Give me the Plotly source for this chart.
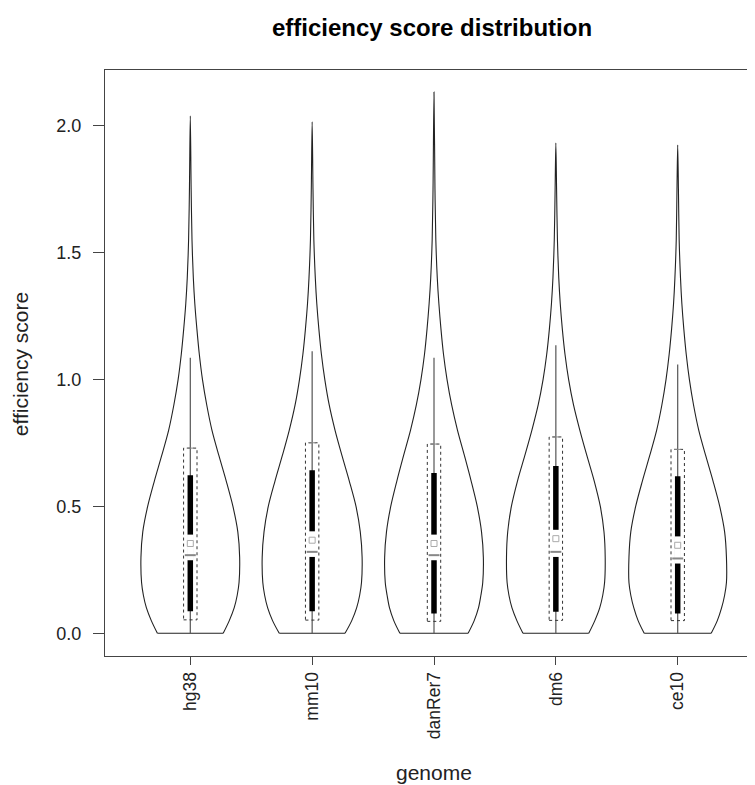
import plotly.graph_objects as go

# ---------------- data ----------------
genomes = ["hg38", "mm10", "danRer7", "dm6", "ce10"]

# violin outline: density half-widths (category units) at these score levels
levels = [0.0, 0.05, 0.10, 0.15, 0.20, 0.30, 0.40, 0.50, 0.60, 0.70, 0.80,
          0.90, 1.00, 1.10, 1.20, 1.30, 1.40, 1.55, 1.75]
dens_hg38 = [0.27, 0.32, 0.36, 0.385, 0.40, 0.405, 0.39, 0.35, 0.295, 0.235, 0.178,
             0.135, 0.10, 0.074, 0.054, 0.037, 0.025, 0.014, 0.007]
dens_mm10 = [0.27, 0.325, 0.365, 0.39, 0.405, 0.41, 0.395, 0.36, 0.305, 0.245, 0.188,
             0.14, 0.104, 0.076, 0.055, 0.038, 0.026, 0.014, 0.007]
dens_danRer7 = [0.28, 0.33, 0.365, 0.385, 0.40, 0.405, 0.39, 0.355, 0.305, 0.25, 0.193,
                0.145, 0.107, 0.078, 0.057, 0.04, 0.027, 0.015, 0.008]
dens_dm6 = [0.27, 0.32, 0.36, 0.385, 0.40, 0.405, 0.395, 0.365, 0.315, 0.255, 0.197,
            0.145, 0.105, 0.075, 0.053, 0.036, 0.024, 0.013, 0.006]
dens_ce10 = [0.275, 0.325, 0.36, 0.385, 0.40, 0.40, 0.385, 0.345, 0.29, 0.23, 0.173,
             0.13, 0.096, 0.07, 0.05, 0.034, 0.023, 0.012, 0.006]
densities = [dens_hg38, dens_mm10, dens_danRer7, dens_dm6, dens_ce10]

violin_max = [2.04, 2.016, 2.134, 1.933, 1.925]      # top of each violin
whisker_top = [1.086, 1.112, 1.086, 1.135, 1.06]     # thin centre line top
box_lo = [0.053, 0.052, 0.047, 0.051, 0.050]         # dotted box bottom
box_hi = [0.730, 0.751, 0.746, 0.774, 0.725]         # dotted box top
q1 = [0.087, 0.087, 0.078, 0.085, 0.078]             # thick bar bottom
q3 = [0.623, 0.643, 0.632, 0.659, 0.619]             # thick bar top
med_point = [0.354, 0.367, 0.354, 0.373, 0.347]      # white median point
box_median = [0.308, 0.321, 0.308, 0.321, 0.295]     # dotted-box median

y_ticks = [0.0, 0.5, 1.0, 1.5, 2.0]
y_tick_text = ["0.0", "0.5", "1.0", "1.5", "2.0"]

FONT = "Liberation Sans, Arial, sans-serif"
LINE = "#222222"

fig = go.Figure()

for i, g in enumerate(genomes):
    c = i + 1
    dens = densities[i]
    ys = levels + [violin_max[i]]
    ws = dens + [0.0]
    left_x = [c - w for w in ws]
    right_x = [c + w for w in ws[::-1]]
    xs = left_x + right_x[1:] + [None, c - ws[0], c + ws[0]]
    yv = ys + ys[::-1][1:] + [None, 0.0, 0.0]
    fig.add_trace(go.Scatter(x=xs, y=yv, mode="lines",
                             line=dict(color=LINE, width=1.1, shape="spline", smoothing=0.9),
                             hoverinfo="skip", showlegend=False))
    # centre whisker line
    fig.add_trace(go.Scatter(x=[c, c], y=[0.0, whisker_top[i]], mode="lines",
                             line=dict(color="#555555", width=1.2),
                             hoverinfo="skip", showlegend=False))
    # dotted box
    bw = 0.055
    fig.add_trace(go.Scatter(x=[c - bw, c + bw, c + bw, c - bw, c - bw],
                             y=[box_lo[i], box_lo[i], box_hi[i], box_hi[i], box_lo[i]],
                             mode="lines",
                             line=dict(color="#333333", width=1, dash="dot"),
                             hoverinfo="skip", showlegend=False))
    # cap at top of dotted box
    fig.add_trace(go.Scatter(x=[c - 0.03, c + 0.03], y=[box_hi[i], box_hi[i]],
                             mode="lines", line=dict(color="#888888", width=1),
                             hoverinfo="skip", showlegend=False))
    # thick black bar
    fig.add_trace(go.Scatter(x=[c, c], y=[q1[i], q3[i]], mode="lines",
                             line=dict(color="black", width=5.5),
                             hoverinfo="skip", showlegend=False))
    # white gap around median
    fig.add_trace(go.Scatter(x=[c, c], y=[box_median[i] - 0.02, med_point[i] + 0.035],
                             mode="lines", line=dict(color="white", width=6.5),
                             hoverinfo="skip", showlegend=False))
    # median dash of dotted box
    fig.add_trace(go.Scatter(x=[c - 0.045, c + 0.045], y=[box_median[i], box_median[i]],
                             mode="lines", line=dict(color="#888888", width=2),
                             hoverinfo="skip", showlegend=False))
    # white median point
    fig.add_trace(go.Scatter(x=[c], y=[med_point[i]], mode="markers",
                             marker=dict(symbol="square", size=6, color="white",
                                         line=dict(color="#aaaaaa", width=1)),
                             hoverinfo="skip", showlegend=False))

fig.update_layout(
    width=755, height=785,
    margin=dict(l=97, r=0, t=62, b=137),
    paper_bgcolor="white", plot_bgcolor="white",
    font=dict(family=FONT, size=17, color="#222222"),
    title=dict(text="<b>efficiency score distribution</b>", x=0.5616, xanchor="center",
               y=0.9745, yanchor="middle", font=dict(size=24, color="black")),
    showlegend=False,
    annotations=[
        dict(text="genome", xref="paper", yref="paper", x=0.5, y=-0.198,
             xanchor="center", yanchor="middle", showarrow=False,
             font=dict(size=21, color="#222222")),
        dict(text="efficiency score", xref="paper", yref="paper", x=-0.1292, y=0.498,
             xanchor="center", yanchor="middle", textangle=-90, showarrow=False,
             font=dict(size=21, color="#222222")),
    ],
)
fig.update_xaxes(
    range=[0.3, 5.7], tickmode="array", tickvals=[1, 2, 3, 4, 5], ticktext=genomes,
    tickangle=-90, ticks="outside", ticklen=8, tickcolor="#444444",
    tickfont=dict(size=17.5),
    showline=True, linecolor="#444444", linewidth=1, mirror=True,
    showgrid=False, zeroline=False,
)
fig.update_yaxes(
    range=[-0.0895, 2.2205], tickmode="array", tickvals=y_ticks, ticktext=y_tick_text,
    ticks="outside", ticklen=11, ticklabelstandoff=8, tickcolor="#444444",
    tickfont=dict(size=18),
    showline=True, linecolor="#444444", linewidth=1, mirror=False,
    showgrid=False, zeroline=False,
)

fig.write_html("out.html")
